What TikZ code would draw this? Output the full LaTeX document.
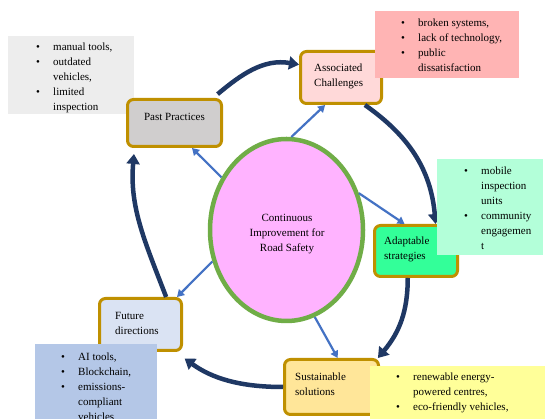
\documentclass[tikz,border=0pt]{standalone}
\usepackage{fontspec}
\setmainfont{Liberation Serif}
\usetikzlibrary{shapes.geometric,arrows.meta}

\definecolor{gold}{HTML}{BF9000}
\definecolor{navy}{HTML}{1F3864}
\definecolor{steel}{HTML}{4472C4}
\definecolor{leaf}{HTML}{70AD47}
\definecolor{orchid}{HTML}{FFB3FF}
\definecolor{ash}{HTML}{D0CECE}
\definecolor{mist}{HTML}{EDEDED}
\definecolor{blush}{HTML}{FFD9D9}
\definecolor{rose}{HTML}{FFB4B4}
\definecolor{mint}{HTML}{33FF99}
\definecolor{seafoam}{HTML}{B3FFD9}
\definecolor{sand}{HTML}{FFE699}
\definecolor{lemon}{HTML}{FFFF99}
\definecolor{frost}{HTML}{DAE3F3}
\definecolor{sky}{HTML}{B4C7E7}

% bullet and hanging indent for the side lists
\newcommand{\itm}{\makebox[17pt][l]{\textbullet}}
\newcommand{\cnt}{\hspace*{17pt}}

\begin{document}
\begin{tikzpicture}[x=1pt,y=1pt,
  stage/.style={draw=gold, line width=3pt, rounded corners=6pt, inner sep=0pt},
  note/.style={inner sep=0pt, outer sep=0pt},
  txt/.style={font=\fontsize{11}{15}\selectfont, align=left, inner sep=0pt},
  spoke/.style={steel, line width=2.2pt, -{Triangle[length=7pt,width=8pt]}},
  flow/.style={navy, line width=4.5pt, -{Triangle[length=10pt,width=13pt]}}]

\fill[white] (0,0) rectangle (545,419);
\path[use as bounding box] (0,0) rectangle (545,419);

% the five stages
\node[note, fill=mist, minimum width=126pt, minimum height=78pt] (pastnote) at (71,344) {};
\node[stage, fill=ash, minimum width=94pt, minimum height=47pt] (past) at (174.5,296) {};
\node[stage, fill=blush, minimum width=81pt, minimum height=52pt] (assoc) at (341,341.5) {};
\node[stage, fill=mint, minimum width=83pt, minimum height=51pt] (adapt) at (416,168) {};
\node[stage, fill=sand, minimum width=94pt, minimum height=55pt] (sustain) at (331.5,32) {};
\node[stage, fill=frost, minimum width=82pt, minimum height=52pt] (future) at (140.5,94.5) {};

% centre
\node[ellipse, draw=leaf, line width=4.5pt, fill=orchid, minimum width=153pt, minimum height=182pt,
  inner sep=0pt] (core) at (286.5,189) {};
\node[txt, align=center, anchor=base] (coretxt) at (287,167) {Continuous\\Improvement for\\Road Safety};

% spokes out of the centre
\draw[spoke] (core.141) -- (past.-55);
\draw[spoke] (core.87) -- (assoc.-120);
\draw[spoke] (core.27) -- (adapt.113);
\draw[spoke] (core.-72) -- (sustain.78);
\draw[spoke] (core.203) -- (future.37);

% the cycle
\draw[flow, shorten <=6pt] (past.33) to[out=40,in=170] (assoc.163);
\draw[flow] (assoc.-49) to[out=-35,in=95] (adapt.54);
\draw[flow] (adapt.-107) to[out=-90,in=50] (sustain.32);
\draw[flow, shorten >=11pt] (sustain.west) to[out=180,in=-36] (future.-38);
\draw[flow, shorten >=6pt] (future.47) to[out=111,in=-95] (past.-148);

% side notes
\node[note, fill=rose, minimum width=144pt, minimum height=67pt] (assocnote) at (447,374.5) {};
\node[note, fill=seafoam, minimum width=106pt, minimum height=96pt] (adaptnote) at (490,212) {};
\node[note, fill=lemon, minimum width=175pt, minimum height=53pt] (sustainnote) at (457.5,26.5) {};
\node[note, fill=sky, minimum width=122pt, minimum height=75pt] (futurenote) at (96,37.5) {};

% labels (base = last line)
\node[txt, anchor=base] (pasttxt) at (174.5,298) {Past Practices};
\node[txt, anchor=base west] (assoctxt) at (314,332) {Associated\\Challenges};
\node[txt, anchor=base west] (adapttxt) at (384,159) {Adaptable\\strategies};
\node[txt, anchor=base west] (sustaintxt) at (295,23) {Sustainable\\solutions};
\node[txt, anchor=base west] (futuretxt) at (115,84) {Future\\directions};

\node[txt, anchor=base west] (pastlist) at (36,308) {\itm manual tools,\\\itm outdated\\\cnt vehicles,\\\itm limited\\\cnt inspection};
\node[txt, anchor=base west] (assoclist) at (401,347) {\itm broken systems,\\\itm lack of technology,\\\itm public\\\cnt dissatisfaction};
\node[txt, anchor=base west] (adaptlist) at (464,169) {\itm mobile\\\cnt inspection\\\cnt units\\\itm community\\\cnt engagemen\\\cnt t};
\node[txt, anchor=base west] (sustainlist) at (396,8) {\itm renewable energy-\\\cnt powered centres,\\\itm eco-friendly vehicles,};
\node[txt, anchor=base west] (futurelist) at (61,-2) {\itm AI tools,\\\itm Blockchain,\\\itm emissions-\\\cnt compliant\\\cnt vehicles};

\end{tikzpicture}
\end{document}
